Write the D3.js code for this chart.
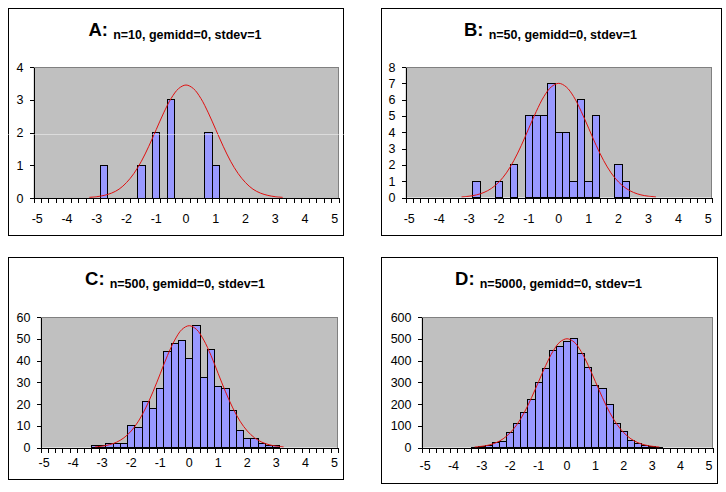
<!DOCTYPE html>
<html>
<head>
<meta charset="utf-8">
<script src="https://cdn.jsdelivr.net/npm/d3@7"></script>
<style>
  html, body { margin: 0; padding: 0; background: #ffffff; }
  svg { display: block; }
  text { font-family: "Liberation Sans", Arial, sans-serif; }
</style>
</head>
<body>
<svg id="chart" width="726" height="492"></svg>
<script>
// ---------------- DATA ----------------
const categories = [-5,-4.75,-4.5,-4.25,-4,-3.75,-3.5,-3.25,-3,-2.75,-2.5,-2.25,-2,-1.75,-1.5,-1.25,-1,-0.75,-0.5,-0.25,
  0,0.25,0.5,0.75,1,1.25,1.5,1.75,2,2.25,2.5,2.75,3,3.25,3.5,3.75,4,4.25,4.5,4.75,5];
const xTickLabels = [-5,-4,-3,-2,-1,0,1,2,3,4,5];

const panelLetters = ["A:", "B:", "C:", "D:"];
const panelSubtitles = ["n=10, gemidd=0, stdev=1", "n=50, gemidd=0, stdev=1",
                        "n=500, gemidd=0, stdev=1", "n=5000, gemidd=0, stdev=1"];

const yTicksA = [0,1,2,3,4];
const yTicksB = [0,1,2,3,4,5,6,7,8];
const yTicksC = [0,10,20,30,40,50,60];
const yTicksD = [0,100,200,300,400,500,600];

// histogram counts per category (-5 ... 5, step 0.25)
const countsA = [0,0,0,0,0,0,0,0,0,1, 0,0,0,0,1,0,2,0,3,0, 0,0,0,2,1,0,0,0,0,0, 0,0,0,0,0,0,0,0,0,0, 0];
const countsB = [0,0,0,0,0,0,0,0,0,1, 0,0,1,0,2,0,5,5,5,7, 4,4,1,6,1,5,0,0,2,1, 0,0,0,0,0,0,0,0,0,0, 0];
const countsC = [0,0,0,0,0,0,0,1,1,2, 2,2,10,9,21,18,27,44,48,49, 41,56,32,45,28,27,17,8,4,4, 2,1,1,0,0,0,0,0,0,0, 0];
const countsD = [0,0,0,0,0,0,0,2,4,10, 22,27,70,112,160,222,300,364,444,466, 487,499,432,367,284,270,199,112,73,33, 19,10,6,2,0,0,0,0,0,0, 0];

// red normal curve values per category (null = not drawn)
const curveA = [null,null,null,null,null,null,null,0.02,0.04,0.08, 0.15,0.27,0.47,0.75,1.12,1.58,2.09,2.60,3.04,3.34,
  3.45,3.34,3.04,2.60,2.09,1.58,1.12,0.75,0.47,0.27, 0.15,0.08,0.04,0.02,null,null,null,null,null,null, null];
const curveB = [null,null,null,null,null,null,null,0.04,0.08,0.16, 0.31,0.56,0.95,1.51,2.27,3.20,4.25,5.28,6.18,6.78,
  7.00,6.78,6.18,5.28,4.25,3.20,2.27,1.51,0.95,0.56, 0.31,0.16,0.08,0.04,null,null,null,null,null,null, null];
const curveC = [null,null,null,null,null,null,null,0.29,0.62,1.28, 2.46,4.46,7.58,12.1,18.2,25.6,33.9,42.3,49.4,54.3,
  56.0,54.3,49.4,42.3,33.9,25.6,18.2,12.1,7.58,4.46, 2.46,1.28,0.62,0.29,null,null,null,null,null,null, null];
const curveD = [null,null,null,null,null,null,null,2.6,5.6,11.4, 22,40,68,108,162,229,303,377,441,485,
  500,485,441,377,303,229,162,108,68,40, 22,11.4,5.6,2.6,null,null,null,null,null,null, null];

// ---------------- LAYOUT ----------------
const panels = [
  {letter: panelLetters[0], sub: panelSubtitles[0], counts: countsA, curve: curveA, yTicks: yTicksA,
   box: [8.5, 8.5, 343.5, 235.5], plot: [33.5, 67, 338.5, 198], xLabDy: 21},
  {letter: panelLetters[1], sub: panelSubtitles[1], counts: countsB, curve: curveB, yTicks: yTicksB,
   box: [381.5, 8.5, 721.5, 235.5], plot: [405.5, 67, 712, 197.5], xLabDy: 21},
  {letter: panelLetters[2], sub: panelSubtitles[2], counts: countsC, curve: curveC, yTicks: yTicksC,
   box: [8.5, 257.5, 343.5, 479.5], plot: [40.5, 317, 338, 447.5], xLabDy: 15},
  {letter: panelLetters[3], sub: panelSubtitles[3], counts: countsD, curve: curveD, yTicks: yTicksD,
   box: [381.5, 257.5, 717.5, 483.5], plot: [421.5, 317, 712.5, 447.5], xLabDy: 18}
];

const svg = d3.select("#chart");
const tickFont = "12.5px";
const plainFormat = d => String(d);   // ASCII hyphen-minus, like the original

panels.forEach(p => {
  const [bx0, by0, bx1, by1] = p.box;
  const [px0, py0, px1, py1] = p.plot;
  const g = svg.append("g");

  // chart area border
  g.append("rect")
    .attr("x", bx0).attr("y", by0)
    .attr("width", bx1 - bx0).attr("height", by1 - by0)
    .attr("fill", "#ffffff").attr("stroke", "#000000").attr("stroke-width", 1);

  // title
  const t = g.append("text")
    .attr("x", (bx0 + bx1) / 2 - 1)
    .attr("y", by0 + 27)
    .attr("text-anchor", "middle")
    .attr("font-weight", "bold")
    .attr("fill", "#000");
  t.append("tspan").attr("font-size", "18.5px").text(p.letter + " ");
  t.append("tspan").attr("font-size", "12.5px").attr("dy", 3).text(p.sub);

  // scales
  const x = d3.scaleBand().domain(categories).range([px0, px1]).padding(0);
  const xEdge = d3.scaleLinear().domain([0, categories.length]).range([px0, px1]);
  const yMax = p.yTicks[p.yTicks.length - 1];
  const y = d3.scaleLinear().domain([0, yMax]).range([py1, py0]);

  // plot area
  g.append("rect")
    .attr("x", px0).attr("y", py0)
    .attr("width", px1 - px0).attr("height", py1 - py0)
    .attr("fill", "#c0c0c0");
  g.append("path")
    .attr("d", `M${px0},${py0 + 0.5}H${px1 - 0.5}V${py1}`)
    .attr("fill", "none").attr("stroke", "#808080").attr("stroke-width", 1)
    .attr("shape-rendering", "crispEdges");

  // bars
  g.append("g").selectAll("rect")
    .data(categories.map((c, i) => ({c, v: p.counts[i]})).filter(d => d.v > 0))
    .join("rect")
    .attr("x", d => x(d.c))
    .attr("y", d => y(d.v))
    .attr("width", x.bandwidth())
    .attr("height", d => y(0) - y(d.v))
    .attr("fill", "#9999ff")
    .attr("stroke", "#000000")
    .attr("stroke-width", 1)
    .attr("shape-rendering", "crispEdges");

  // normal curve
  const line = d3.line()
    .defined(d => d.v !== null)
    .x(d => x(d.c) + x.bandwidth() / 2)
    .y(d => y(d.v))
    .curve(d3.curveCatmullRom.alpha(0.5));
  g.append("path")
    .datum(categories.map((c, i) => ({c, v: p.curve[i]})))
    .attr("d", line)
    .attr("fill", "none")
    .attr("stroke", "#e01010")
    .attr("stroke-width", 1);

  // y axis
  const yAxis = g.append("g")
    .attr("transform", `translate(${px0},0)`)
    .call(d3.axisLeft(y).tickValues(p.yTicks).tickFormat(plainFormat)
      .tickSize(4).tickSizeOuter(0).tickPadding(6));
  yAxis.select(".domain").attr("stroke", "#000").attr("shape-rendering", "crispEdges");
  yAxis.selectAll(".tick line").attr("stroke", "#000").attr("shape-rendering", "crispEdges");
  yAxis.selectAll(".tick text")
    .attr("font-family", "Liberation Sans, Arial, sans-serif")
    .attr("font-size", tickFont).attr("fill", "#000");

  // x axis: tick marks at category boundaries
  const xAxis = g.append("g")
    .attr("transform", `translate(0,${py1})`)
    .call(d3.axisBottom(xEdge).tickValues(d3.range(categories.length + 1)).tickSize(5).tickSizeOuter(0).tickFormat(""));
  xAxis.select(".domain").attr("stroke", "#000").attr("shape-rendering", "crispEdges");
  xAxis.selectAll(".tick line").attr("stroke", "#000").attr("shape-rendering", "crispEdges");

  // x axis labels at every 4th category
  const xLab = g.append("g")
    .attr("transform", `translate(0,${py1})`)
    .call(d3.axisBottom(x).tickValues(xTickLabels).tickFormat(plainFormat).tickSize(0).tickPadding(0));
  xLab.select(".domain").remove();
  xLab.selectAll(".tick text")
    .attr("y", p.xLabDy).attr("dy", "0.35em")
    .attr("font-family", "Liberation Sans, Arial, sans-serif")
    .attr("font-size", tickFont).attr("fill", "#000");
});

// faint light scan line artifact across panel A
svg.append("line")
  .attr("x1", 0).attr("x2", 345).attr("y1", 134.5).attr("y2", 134.5)
  .attr("stroke", "#ffffff").attr("stroke-opacity", 0.45).attr("stroke-width", 1);
</script>
</body>
</html>
